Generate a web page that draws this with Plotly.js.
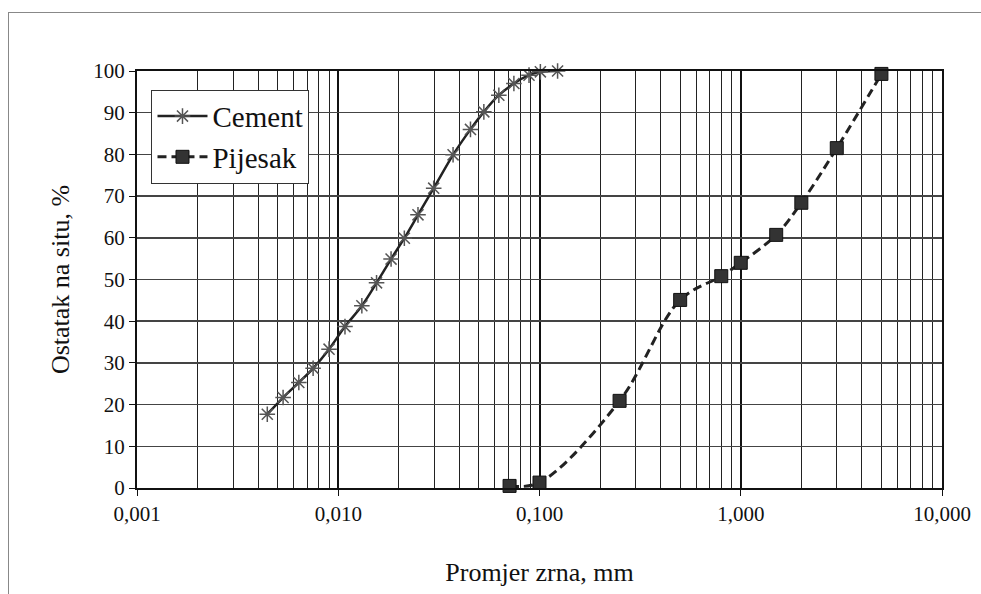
<!DOCTYPE html>
<html><head><meta charset="utf-8">
<script src="https://cdn.plot.ly/plotly-3.0.1.min.js"></script>
<style>
html,body{margin:0;padding:0;background:#fff;}
#frame{position:absolute;left:8px;top:12px;width:990px;height:600px;border-left:1.5px solid #888;border-top:1.5px solid #888;}
#chart{position:absolute;left:0;top:0;width:981px;height:594px;}
</style></head>
<body>
<div id="frame"></div>
<div id="chart"></div>
<script>
const cementSize = [0.00444,0.00532,0.00637,0.0075,0.0090,0.0108,0.0131,0.0155,0.0183,0.0213,0.0249,0.0298,0.0372,0.0454,0.0529,0.0628,0.0746,0.0887,0.101,0.123];
const cementPass = [17.7,21.7,25.3,28.7,33.3,38.7,43.7,49.2,54.9,59.9,65.5,71.9,79.9,86.0,90.2,94.2,97.0,99.0,99.8,100];
const sandSize = [0.071,0.1,0.25,0.5,0.8,1.0,1.5,2.0,3.0,5.0];
const sandPass = [0.5,1.3,20.9,45.1,50.8,54.0,60.7,68.4,81.5,99.3];
const xTickVals = [0.001,0.01,0.1,1,10];
const xTickText = ["0,001","0,010","0,100","1,000","10,000"];
const yTickVals = [0,10,20,30,40,50,60,70,80,90,100];

const font = "'Liberation Serif', 'Times New Roman', serif";
const traces = [
  {x: cementSize, y: cementPass, name: "Cement", mode: "lines+markers", type: "scatter",
   line: {color: "#222", width: 2.5, shape: "spline"},
   marker: {symbol: "asterisk-open", size: 13, color: "#555", line: {color: "#555", width: 1.5}},
   cliponaxis: false},
  {x: sandSize, y: sandPass, name: "Pijesak", mode: "lines+markers", type: "scatter",
   line: {color: "#222", width: 3, dash: "9px,5px", shape: "spline"},
   marker: {symbol: "square", size: 13, color: "#333", line: {color: "#111", width: 1}},
   cliponaxis: false}
];
const layout = {
  width: 981, height: 594,
  paper_bgcolor: "rgba(0,0,0,0)", plot_bgcolor: "#fff",
  margin: {l: 137, r: 39, t: 71, b: 106},
  font: {family: font, color: "#111", size: 21},
  showlegend: true,
  legend: {x: 0.018, y: 0.955, xanchor: "left", yanchor: "top", bgcolor: "#fff",
           bordercolor: "#333", borderwidth: 1, font: {family: font, size: 29, color: "#111"},
           tracegroupgap: 12, itemwidth: 50},
  xaxis: {type: "log", range: [-3, 1], tickvals: xTickVals, ticktext: xTickText,
          showgrid: true, gridcolor: "#111", gridwidth: 2,
          minor: {dtick: "D1", showgrid: true, gridcolor: "#222", gridwidth: 1, ticks: ""},
          ticks: "outside", ticklen: 6, tickcolor: "#111",
          showline: true, linecolor: "#111", linewidth: 2, mirror: true, zeroline: false,
          tickfont: {family: font, size: 21},
          title: {text: "Promjer zrna, mm", font: {family: font, size: 26}, standoff: 38}},
  yaxis: {range: [0, 100], tickvals: yTickVals, showgrid: true, gridcolor: "#444", gridwidth: 1.5,
          ticks: "outside", ticklen: 6, tickcolor: "#111",
          showline: true, linecolor: "#111", linewidth: 2, mirror: true, zeroline: false,
          tickfont: {family: font, size: 21},
          title: {text: "Ostatak na situ, %", font: {family: font, size: 26}, standoff: 16}}
};
Plotly.newPlot("chart", traces, layout, {displayModeBar: false, staticPlot: true});
</script>
</body></html>
